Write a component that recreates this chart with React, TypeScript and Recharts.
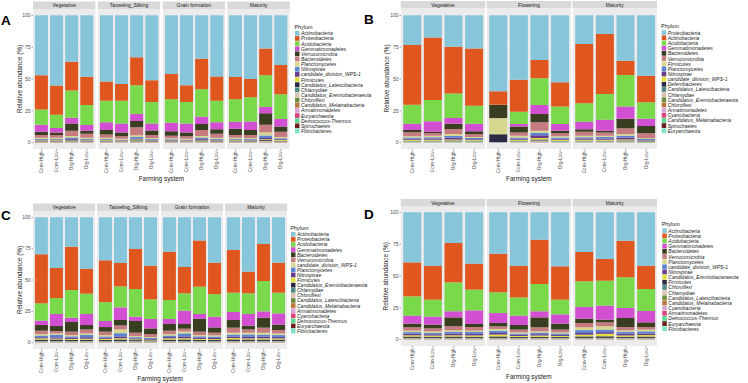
import { BarChart, Bar, XAxis, YAxis, CartesianGrid } from "recharts"

const FONT = "'Liberation Sans', Arial, Helvetica, sans-serif"

// fill colours, by rank in each panel's legend
const palette = [
  "#86C5DA", "#E0561F", "#79D94B", "#D34FD2", "#3A3E20",
  "#C67B80", "#D5D88E", "#5C83D3", "#6A3B8B", "#E2E03E",
  "#2D2A45", "#4E8A86", "#DCC0B2", "#6F8C3C", "#B8763A",
  "#D6A6D9", "#D9427D", "#5DD88E", "#6B1F20", "#7DE2C6",
]

const samples = ["Conv-High", "Conv-Low", "Org-High", "Org-Low"]
const stagesAC = ["Vegetative", "Tasseling_Silking", "Grain formation", "Maturity"]
const stagesBD = ["Vegetative", "Flowering", "Maturity"]

// ---- panel A (columns: stage x sample) ----
const phylaA = [
  "Actinobacteria", "Proteobacteria", "Acidobacteria", "Gemmatimonadetes", "Verrucomicrobia",
  "Bacteroidetes", "Planctomycetes", "Nitrospirae", "candidate_division_WPS-1", "Firmicutes",
  "Candidatus_Latescibacteria", "Chlamydiae", "Candidatus_Eremiobacteraeota", "Chloroflexi",
  "Candidatus_Melainabacteria", "Armatimonadetes", "Euryarchaeota", "Deinococcus-Thermus",
  "Spirochaetes", "Fibrobacteres",
]
const abundA = [
  [47, 55.2, 36.4, 48.2, 52, 54, 33, 51, 46, 55, 34, 48, 48.4, 50, 26, 39],
  [27, 22.8, 22.6, 22.2, 15, 13, 22, 17, 20, 13, 24, 19, 17.6, 14.4, 21, 23],
  [12, 10.5, 21.4, 15.7, 17, 18, 22.5, 17, 18.3, 17, 21.6, 17, 17.5, 18.9, 25, 19.4],
  [5.5, 3.5, 4.6, 4.5, 6, 7, 5.5, 5.5, 6.7, 7, 5.7, 5.5, 5.5, 6.7, 5, 6],
  [2.5, 2, 5.6, 2.4, 3.7, 3, 5, 3.5, 3.5, 3, 4.7, 3.5, 5, 4, 9, 4],
  [2.25, 2.15, 4.25, 3.15, 2.55, 1.95, 6.25, 2.35, 2.05, 1.95, 4.85, 3.15, 2.25, 2.35, 5.85, 4.15],
  [0.8, 0.9, 1.2, 0.9, 0.8, 0.7, 1.4, 0.8, 0.7, 0.7, 1.2, 0.9, 0.8, 0.8, 2.6, 1.0],
  [0.6, 0.5, 1.0, 0.6, 0.6, 0.5, 1.2, 0.6, 0.6, 0.5, 1.0, 0.7, 0.6, 0.6, 2.0, 0.8],
  [0.5, 0.5, 0.6, 0.5, 0.5, 0.4, 0.7, 0.5, 0.4, 0.4, 0.6, 0.5, 0.5, 0.5, 0.8, 0.6],
  [0.4, 0.6, 0.5, 0.4, 0.5, 0.3, 0.6, 0.4, 0.4, 0.3, 0.5, 0.4, 0.5, 0.4, 0.7, 0.5],
  [0.3, 0.3, 0.4, 0.3, 0.3, 0.2, 0.4, 0.3, 0.3, 0.2, 0.4, 0.3, 0.3, 0.3, 0.5, 0.4],
  [0.2, 0.2, 0.3, 0.2, 0.2, 0.2, 0.3, 0.2, 0.2, 0.2, 0.3, 0.2, 0.2, 0.2, 0.3, 0.2],
  [0.3, 0.2, 0.3, 0.3, 0.2, 0.2, 0.3, 0.2, 0.2, 0.2, 0.3, 0.2, 0.2, 0.2, 0.4, 0.3],
  [0.2, 0.2, 0.3, 0.2, 0.2, 0.1, 0.3, 0.2, 0.2, 0.1, 0.3, 0.2, 0.2, 0.2, 0.3, 0.2],
  [0.1, 0.1, 0.2, 0.1, 0.1, 0.1, 0.2, 0.1, 0.1, 0.1, 0.2, 0.1, 0.1, 0.1, 0.2, 0.1],
  [0.1, 0.1, 0.1, 0.1, 0.1, 0.1, 0.1, 0.1, 0.1, 0.1, 0.1, 0.1, 0.1, 0.1, 0.1, 0.1],
  [0.1, 0.1, 0.1, 0.1, 0.1, 0.1, 0.1, 0.1, 0.1, 0.1, 0.1, 0.1, 0.1, 0.1, 0.1, 0.1],
  [0.05, 0.05, 0.05, 0.05, 0.05, 0.05, 0.05, 0.05, 0.05, 0.05, 0.05, 0.05, 0.05, 0.05, 0.05, 0.05],
  [0.05, 0.05, 0.05, 0.05, 0.05, 0.05, 0.05, 0.05, 0.05, 0.05, 0.05, 0.05, 0.05, 0.05, 0.05, 0.05],
  [0.05, 0.05, 0.05, 0.05, 0.05, 0.05, 0.05, 0.05, 0.05, 0.05, 0.05, 0.05, 0.05, 0.05, 0.05, 0.05],
]

// ---- panel B ----
const phylaB = [
  "Proteobacteria", "Actinobacteria", "Acidobacteria", "Gemmatimonadetes", "Bacteroidetes",
  "Verrucomicrobia", "Firmicutes", "Planctomycetes", "Nitrospirae", "candidate_division_WPS-1",
  "Deferribacteres", "Candidatus_Latescibacteria", "Chlamydiae", "Candidatus_Eremiobacteraeota",
  "Chloroflexi", "Armatimonadetes", "Cyanobacteria", "Candidatus_Melainabacteria",
  "Spirochaetes", "Euryarchaeota",
]
const abundB = [
  [23.3, 17.3, 24.6, 26, 59.7, 50.5, 35, 52.6, 22.5, 14.7, 35.6, 47.4],
  [46.9, 49.2, 36.7, 45, 10.5, 25.2, 14.5, 19.1, 46.6, 47.1, 11.3, 20.9],
  [14.9, 16.7, 19.3, 14.1, 0.2, 9.6, 20.9, 13.6, 14.4, 20.2, 24.8, 12.9],
  [4.9, 8.2, 4.5, 6, 0.1, 2.1, 7.1, 5.3, 6, 8.6, 9.5, 5.7],
  [1.9, 1.1, 4.2, 2.1, 10.2, 4.6, 6.5, 2.1, 1.9, 1.5, 7.5, 5.8],
  [3.1, 2, 3.9, 2.3, 0.1, 2.5, 6.6, 2.3, 3.1, 2.4, 4.5, 3.9],
  [1.0, 1.2, 1.5, 0.9, 12.3, 1.4, 1.6, 1.0, 1.2, 1.0, 1.3, 0.6],
  [1.0, 1.1, 1.4, 0.9, 0.1, 1.0, 2.0, 1.0, 1.1, 1.3, 1.5, 0.7],
  [0.8, 0.9, 1.4, 0.6, 0.1, 0.8, 2.2, 0.8, 0.9, 0.9, 1.5, 0.4],
  [0.7, 0.8, 0.9, 0.6, 0.1, 0.8, 1.2, 0.7, 0.8, 0.8, 0.9, 0.4],
  [0.3, 0.3, 0.4, 0.3, 6.3, 0.3, 0.6, 0.3, 0.3, 0.3, 0.4, 0.2],
  [0.3, 0.3, 0.3, 0.3, 0.05, 0.3, 0.4, 0.3, 0.3, 0.3, 0.3, 0.3],
  [0.2, 0.2, 0.2, 0.2, 0.05, 0.2, 0.3, 0.2, 0.2, 0.2, 0.2, 0.2],
  [0.2, 0.2, 0.2, 0.2, 0.05, 0.2, 0.3, 0.2, 0.2, 0.2, 0.2, 0.2],
  [0.2, 0.2, 0.2, 0.2, 0.05, 0.2, 0.3, 0.2, 0.2, 0.2, 0.2, 0.2],
  [0.1, 0.1, 0.1, 0.1, 0.02, 0.1, 0.2, 0.1, 0.1, 0.1, 0.1, 0.1],
  [0.1, 0.1, 0.1, 0.1, 0.02, 0.1, 0.1, 0.1, 0.1, 0.1, 0.1, 0.05],
  [0.05, 0.05, 0.05, 0.05, 0.02, 0.05, 0.1, 0.05, 0.05, 0.05, 0.05, 0.03],
  [0.03, 0.03, 0.03, 0.03, 0.02, 0.03, 0.05, 0.03, 0.03, 0.03, 0.03, 0.01],
  [0.02, 0.02, 0.02, 0.02, 0.02, 0.02, 0.05, 0.02, 0.02, 0.02, 0.02, 0.01],
]

// ---- panel C ----
const phylaC = [
  "Actinobacteria", "Proteobacteria", "Acidobacteria", "Gemmatimonadetes", "Bacteroidetes",
  "Verrucomicrobia", "candidate_division_WPS-1", "Planctomycetes", "Nitrospirae", "Firmicutes",
  "Candidatus_Eremiobacteraeota", "Chlamydiae", "Chloroflexi", "Candidatus_Latescibacteria",
  "Candidatus_Melainabacteria", "Armatimonadetes", "Cyanobacteria", "Deinococcus-Thermus",
  "Euryarchaeota", "Fibrobacteres",
]
const abundC = [
  [29.5, 40.4, 23.4, 41, 34.3, 36.4, 25.3, 38.6, 27.4, 39.6, 18.6, 36.2, 26.1, 43.4, 21.3, 36.2],
  [39.1, 24, 34.6, 19.9, 33.3, 18.7, 31.9, 26.8, 38.6, 21, 36.7, 25, 34, 17.2, 29.5, 23.9],
  [13.8, 12.7, 22.1, 16.2, 15.1, 16.7, 22.1, 15.7, 15.1, 13.9, 21.8, 18.1, 15.4, 16.5, 24.2, 16.5],
  [3.5, 9.6, 3.4, 8.8, 4.8, 10.1, 3.4, 7.5, 4, 10.6, 3.8, 8.5, 6.4, 9.3, 5.1, 9],
  [4.5, 4, 7.7, 3.5, 3.7, 4.3, 9.3, 4.5, 5.3, 3.7, 10.3, 4.2, 6.1, 3, 7.9, 4.3],
  [2.7, 1.9, 2.7, 3.2, 2.7, 3.2, 2.7, 2.4, 2.7, 2.2, 2.7, 2.1, 4, 2.6, 4, 2.7],
  [1.2, 1.1, 1.0, 1.2, 1.1, 3.0, 0.9, 0.7, 1.2, 1.6, 1.0, 1.0, 1.5, 1.4, 1.5, 1.3],
  [1.3, 2.0, 1.1, 1.8, 1.0, 2.6, 0.9, 0.8, 1.2, 2.4, 1.2, 1.1, 1.6, 2.0, 1.7, 1.6],
  [0.9, 1.0, 1.0, 1.2, 0.9, 1.4, 0.8, 0.6, 1.0, 1.4, 0.9, 0.9, 1.2, 1.2, 1.3, 1.1],
  [1.0, 0.7, 0.8, 0.8, 0.9, 1.0, 0.6, 0.5, 1.0, 1.0, 0.8, 0.7, 1.1, 0.9, 1.0, 0.9],
  [1.1, 1.2, 0.8, 1.0, 0.8, 1.2, 0.7, 0.5, 1.1, 1.2, 0.8, 0.8, 1.2, 1.1, 1.1, 1.1],
  [0.3, 0.3, 0.3, 0.3, 0.3, 0.3, 0.3, 0.3, 0.3, 0.3, 0.3, 0.3, 0.3, 0.3, 0.3, 0.3],
  [0.3, 0.3, 0.3, 0.3, 0.3, 0.3, 0.3, 0.3, 0.3, 0.3, 0.3, 0.3, 0.3, 0.3, 0.3, 0.3],
  [0.3, 0.3, 0.3, 0.3, 0.3, 0.3, 0.3, 0.3, 0.3, 0.3, 0.3, 0.3, 0.3, 0.3, 0.3, 0.3],
  [0.2, 0.2, 0.2, 0.2, 0.2, 0.2, 0.2, 0.2, 0.2, 0.2, 0.2, 0.2, 0.2, 0.2, 0.2, 0.2],
  [0.1, 0.1, 0.1, 0.1, 0.1, 0.1, 0.1, 0.1, 0.1, 0.1, 0.1, 0.1, 0.1, 0.1, 0.1, 0.1],
  [0.1, 0.1, 0.1, 0.1, 0.1, 0.1, 0.1, 0.1, 0.1, 0.1, 0.1, 0.1, 0.1, 0.1, 0.1, 0.1],
  [0.05, 0.05, 0.05, 0.05, 0.05, 0.05, 0.05, 0.05, 0.05, 0.05, 0.05, 0.05, 0.05, 0.05, 0.05, 0.05],
  [0.03, 0.03, 0.03, 0.03, 0.03, 0.03, 0.03, 0.03, 0.03, 0.03, 0.03, 0.03, 0.03, 0.03, 0.03, 0.03],
  [0.02, 0.02, 0.02, 0.02, 0.02, 0.02, 0.02, 0.02, 0.02, 0.02, 0.02, 0.02, 0.02, 0.02, 0.02, 0.02],
]

// ---- panel D ----
const phylaD = [
  "Actinobacteria", "Proteobacteria", "Acidobacteria", "Gemmatimonadetes", "Bacteroidetes",
  "Verrucomicrobia", "Planctomycetes", "candidate_division_WPS-1", "Nitrospirae",
  "Candidatus_Eremiobacteraeota", "Firmicutes", "Chloroflexi", "Chlamydiae",
  "Candidatus_Latescibacteria", "Candidatus_Melainabacteria", "Cyanobacteria", "Armatimonadetes",
  "Deinococcus-Thermus", "Euryarchaeota", "Fibrobacteres",
]
const abundD = [
  [39.3, 41.9, 24.1, 40.3, 32.5, 41.9, 21.5, 42.4, 31.2, 36.6, 22.3, 41.9],
  [26.7, 26.7, 30.9, 20.4, 30.3, 24.9, 34.8, 26.2, 23, 17.1, 28.7, 18.3],
  [15.2, 13.3, 22.7, 16.3, 16.3, 14.4, 21.4, 11.5, 20.1, 19.6, 24.1, 17.3],
  [6.2, 6.3, 4.8, 10.7, 7.8, 7.3, 4.8, 7.3, 9.2, 11, 7.9, 8.9],
  [2.9, 2.9, 7, 2.4, 2.6, 3.6, 7.8, 4.7, 3.4, 2.1, 7.1, 3.7],
  [2.6, 2.4, 3.2, 2.8, 2.1, 2.1, 3.2, 2.1, 3.4, 3.1, 2.6, 2],
  [1.2, 1.1, 1.2, 1.1, 1.4, 1.0, 1.0, 0.9, 2.2, 2.6, 1.1, 1.4],
  [1.3, 1.2, 1.3, 1.5, 1.8, 1.0, 1.2, 1.1, 2.3, 2.0, 1.4, 1.7],
  [1.2, 1.0, 1.4, 1.2, 1.2, 0.9, 1.1, 0.9, 1.3, 1.3, 1.5, 1.2],
  [1.0, 0.9, 1.0, 1.0, 1.5, 0.8, 1.0, 0.8, 1.4, 2.0, 1.0, 1.2],
  [1.0, 0.9, 1.0, 0.9, 1.1, 0.7, 0.8, 0.7, 1.1, 1.2, 0.9, 1.0],
  [0.3, 0.3, 0.3, 0.3, 0.3, 0.3, 0.3, 0.3, 0.3, 0.3, 0.3, 0.3],
  [0.3, 0.3, 0.3, 0.3, 0.3, 0.3, 0.3, 0.3, 0.3, 0.3, 0.3, 0.3],
  [0.3, 0.3, 0.3, 0.3, 0.3, 0.3, 0.3, 0.3, 0.3, 0.3, 0.3, 0.3],
  [0.2, 0.2, 0.2, 0.2, 0.2, 0.2, 0.2, 0.2, 0.2, 0.2, 0.2, 0.2],
  [0.1, 0.1, 0.1, 0.1, 0.1, 0.1, 0.1, 0.1, 0.1, 0.1, 0.1, 0.1],
  [0.1, 0.1, 0.1, 0.1, 0.1, 0.1, 0.1, 0.1, 0.1, 0.1, 0.1, 0.1],
  [0.05, 0.05, 0.05, 0.05, 0.05, 0.05, 0.05, 0.05, 0.05, 0.05, 0.05, 0.05],
  [0.03, 0.03, 0.03, 0.03, 0.03, 0.03, 0.03, 0.03, 0.03, 0.03, 0.03, 0.03],
  [0.02, 0.02, 0.02, 0.02, 0.02, 0.02, 0.02, 0.02, 0.02, 0.02, 0.02, 0.02],
]

interface PanelSpec {
  letter: string
  letterX: number
  letterY: number
  stages: string[]
  phyla: string[]
  values: number[][]
  facetX: number[]
  facetW: number
  plotTop: number
  plotH: number
  yTitleX: number
  xTitleY: number
  legendX: number
  legendY: number
  legendStep: number
}

const panels: PanelSpec[] = [
  {
    letter: "A", letterX: 1, letterY: 24.5, stages: stagesAC, phyla: phylaA, values: abundA,
    facetX: [33, 97.8, 162.6, 227.4], facetW: 62.5, plotTop: 9, plotH: 140,
    yTitleX: 19, xTitleY: 180.5, legendX: 295, legendY: 33.3, legendStep: 5.14,
  },
  {
    letter: "B", letterX: 364, letterY: 24, stages: stagesBD, phyla: phylaB, values: abundB,
    facetX: [400.7, 486.6, 572.5], facetW: 84.5, plotTop: 8.5, plotH: 140,
    yTitleX: 386, xTitleY: 180.5, legendX: 661.7, legendY: 32.7, legendStep: 5.16,
  },
  {
    letter: "C", letterX: 1, letterY: 220, stages: stagesAC, phyla: phylaC, values: abundC,
    facetX: [33, 97, 161, 225], facetW: 62.2, plotTop: 211, plotH: 138,
    yTitleX: 19, xTitleY: 380.5, legendX: 291, legendY: 234.3, legendStep: 5.09,
  },
  {
    letter: "D", letterX: 364, letterY: 218.5, stages: stagesBD, phyla: phylaD, values: abundD,
    facetX: [400.7, 486.6, 572.5], facetW: 84.5, plotTop: 206.3, plotH: 140,
    yTitleX: 386, xTitleY: 379, legendX: 662.3, legendY: 230.7, legendStep: 5.16,
  },
]

const STRIP_H = 7.5
const X_AXIS_H = 34
const Y_AXIS_W = 14

const XTick = (props: any) => {
  const { x, y, payload } = props
  return (
    <text
      x={x}
      y={y}
      transform={`rotate(-90 ${x} ${y})`}
      textAnchor="end"
      dominantBaseline="central"
      fontSize={4.6}
      fontFamily={FONT}
      fill="#4D4D4D"
    >
      {payload.value}
    </text>
  )
}

function Facet({ spec, fi }: { spec: PanelSpec; fi: number }) {
  const data = samples.map((s, si) => {
    const row: Record<string, any> = { sample: s }
    spec.phyla.forEach((p, pi) => {
      row[p] = spec.values[pi][fi * samples.length + si]
    })
    return row
  })
  const showY = fi === 0
  const yW = showY ? Y_AXIS_W : 0
  // ggplot stacks the first legend level on top, recharts stacks the first Bar at the bottom
  const order = spec.phyla.map((p, i) => ({ p, i })).reverse()

  return (
    <div style={{ position: "absolute", left: spec.facetX[fi] - yW, top: spec.plotTop }}>
      <BarChart
        width={spec.facetW + yW}
        height={spec.plotH + X_AXIS_H}
        data={data}
        margin={{ top: 0, right: 0, bottom: 0, left: 0 }}
        barCategoryGap="6%"
      >
        <CartesianGrid
          fill="#EBEBEB"
          stroke="#FFFFFF"
          strokeWidth={0.5}
          vertical={false}
          horizontalValues={[0, 25, 50, 75, 100]}
        />
        <XAxis
          dataKey="sample"
          height={X_AXIS_H}
          interval={0}
          axisLine={false}
          tickLine={{ stroke: "#333333", strokeWidth: 0.5 }}
          tickSize={1.5}
          tickMargin={1}
          padding={{ left: 1, right: 1 }}
          tick={(p: any) => <XTick {...p} />}
        />
        <YAxis
          hide={!showY}
          width={yW}
          type="number"
          domain={[-5, 105]}
          ticks={[0, 25, 50, 75, 100]}
          allowDataOverflow
          axisLine={false}
          tickLine={{ stroke: "#333333", strokeWidth: 0.5 }}
          tickSize={1.5}
          tickMargin={1}
          tick={{ fontSize: 5, fill: "#4D4D4D", fontFamily: FONT }}
        />
        {order.map(({ p, i }) => (
          <Bar key={p} dataKey={p} stackId="s" fill={palette[i]} isAnimationActive={false} />
        ))}
      </BarChart>
    </div>
  )
}

function Overlay({ spec }: { spec: PanelSpec }) {
  const first = spec.facetX[0]
  const last = spec.facetX[spec.facetX.length - 1] + spec.facetW
  return (
    <g fontFamily={FONT}>
      <text x={spec.letterX} y={spec.letterY} fontSize={13.5} fontWeight="bold" fill="#000">
        {spec.letter}
      </text>
      {spec.stages.map((st, fi) => (
        <g key={st}>
          <rect x={spec.facetX[fi]} y={spec.plotTop - STRIP_H} width={spec.facetW} height={STRIP_H} fill="#D9D9D9" />
          <text
            x={spec.facetX[fi] + spec.facetW / 2}
            y={spec.plotTop - STRIP_H / 2}
            textAnchor="middle"
            dominantBaseline="central"
            fontSize={5}
            fill="#1A1A1A"
          >
            {st}
          </text>
        </g>
      ))}
      <text
        x={spec.yTitleX}
        y={spec.plotTop + spec.plotH / 2}
        transform={`rotate(-90 ${spec.yTitleX} ${spec.plotTop + spec.plotH / 2})`}
        textAnchor="middle"
        dominantBaseline="central"
        fontSize={6.4}
        fill="#1A1A1A"
      >
        Relative abundance (%)
      </text>
      <text x={(first + last) / 2} y={spec.xTitleY} textAnchor="middle" fontSize={6.4} fill="#1A1A1A">
        Farming system
      </text>
      <text x={spec.legendX - 0.6} y={spec.legendY - 6.8} dominantBaseline="central" fontSize={5.4} fill="#1A1A1A">
        Phylum
      </text>
      {spec.phyla.map((p, i) => (
        <g key={p}>
          <rect
            x={spec.legendX}
            y={spec.legendY + i * spec.legendStep - spec.legendStep / 2 + 0.2}
            width={4.5}
            height={spec.legendStep - 0.4}
            fill={palette[i]}
          />
          <text
            x={spec.legendX + 6}
            y={spec.legendY + i * spec.legendStep}
            dominantBaseline="central"
            fontSize={5}
            fontStyle="italic"
            fill="#1A1A1A"
          >
            {p}
          </text>
        </g>
      ))}
    </g>
  )
}

export default function App() {
  return (
    <div
      style={{
        position: "absolute",
        left: 0,
        top: 0,
        width: 748,
        height: 383,
        overflow: "hidden",
        background: "#FFFFFF",
      }}
    >
      {panels.map((spec) =>
        spec.stages.map((st, fi) => <Facet key={spec.letter + st} spec={spec} fi={fi} />)
      )}
      <svg width={748} height={383} style={{ position: "absolute", left: 0, top: 0, pointerEvents: "none" }}>
        {panels.map((spec) => (
          <Overlay key={spec.letter} spec={spec} />
        ))}
      </svg>
    </div>
  )
}
